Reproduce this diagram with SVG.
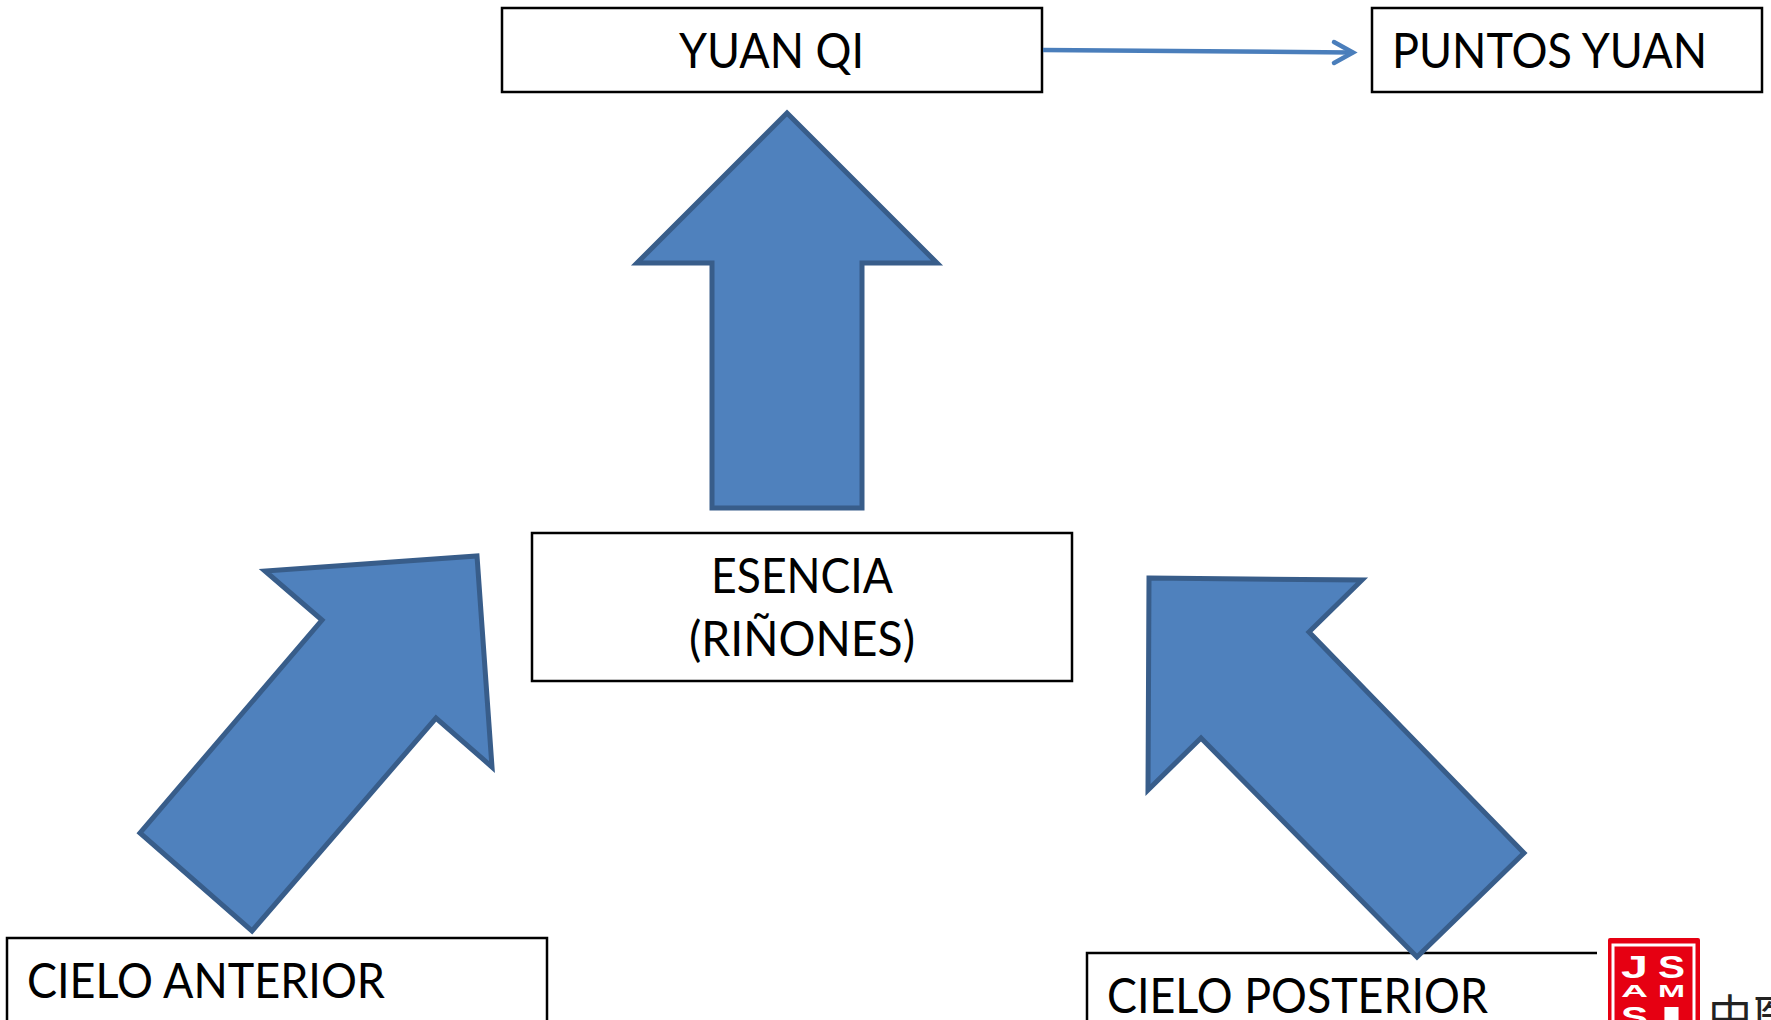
<svg xmlns="http://www.w3.org/2000/svg" width="1771" height="1020" viewBox="0 0 1771 1020">
<style>
.box{fill:#fff;stroke:#000;stroke-width:2.5}
.arrow{fill:#4f81bd;stroke:#385d8a;stroke-width:5}
.t{font-family:Lato,"Open Sans",sans-serif;font-size:48px;fill:#000}
.s{font-family:"Liberation Sans",sans-serif;font-weight:bold;fill:#fff;text-anchor:start}
</style>
<rect width="1771" height="1020" fill="#fff"/>
<g id="node-yuan-qi"><rect class="box" x="502" y="8" width="540" height="84"/><text class="t" x="679" y="68" textLength="185" lengthAdjust="spacingAndGlyphs">YUAN QI</text></g>
<g id="node-puntos-yuan"><rect class="box" x="1372" y="8" width="390" height="84"/><text class="t" x="1392" y="68" textLength="315" lengthAdjust="spacingAndGlyphs">PUNTOS YUAN</text></g>
<g id="node-esencia"><rect class="box" x="532" y="533" width="540" height="148"/><text class="t" x="711" y="593" textLength="182" lengthAdjust="spacingAndGlyphs">ESENCIA</text><text class="t" x="689" y="656" textLength="226" lengthAdjust="spacingAndGlyphs">(RIÑONES)</text></g>
<g id="node-cielo-anterior"><rect class="box" x="7" y="938" width="540" height="100"/><text class="t" x="27" y="998" textLength="358" lengthAdjust="spacingAndGlyphs">CIELO ANTERIOR</text></g>
<g id="node-cielo-posterior"><path class="box" d="M1087 1030V953H1597" fill="none"/><text class="t" x="1107" y="1013" textLength="381" lengthAdjust="spacingAndGlyphs">CIELO POSTERIOR</text></g>
<g id="connectors">
<path d="M1043 50L1351 52.500" fill="none" stroke="#4a7ebb" stroke-width="4.500"/>
<path d="M1334 42L1353 52.500L1334 63" fill="none" stroke="#4a7ebb" stroke-width="4.500" stroke-linecap="round"/>
<polygon id="arrow-up" class="arrow" points="787,113 937,263 862,263 862,508 712,508 712,263 637,263"/>
<polygon id="arrow-left" class="arrow" points="477,556 492,767 436,718 252,931 140,833 322,620 265,571"/>
<polygon id="arrow-right" class="arrow" points="1149,578 1362,580 1309,632 1524,853 1417,957 1201,738 1148,790"/>
</g>
<g id="seal">
<rect x="1608" y="938" width="92" height="90" rx="2" fill="#e60012"/>
<rect x="1613" y="945" width="81" height="80" fill="none" stroke="#fff" stroke-width="3"/>
<text class="s" x="1621" y="978" font-size="32" textLength="27" lengthAdjust="spacingAndGlyphs">J</text>
<text class="s" x="1658" y="978" font-size="32" textLength="27" lengthAdjust="spacingAndGlyphs">S</text>
<text class="s" x="1621" y="997" font-size="17" textLength="27" lengthAdjust="spacingAndGlyphs">A</text>
<text class="s" x="1658" y="997" font-size="17" textLength="27" lengthAdjust="spacingAndGlyphs">M</text>
<text class="s" x="1621" y="1027" font-size="30" textLength="27" lengthAdjust="spacingAndGlyphs">S</text>
<text class="s" x="1658" y="1027" font-size="30" textLength="27" lengthAdjust="spacingAndGlyphs">I</text>
<text x="1708" y="1032" font-family="'Noto Sans CJK TC',sans-serif" font-size="44" fill="#222">中医</text>
</g>
</svg>
